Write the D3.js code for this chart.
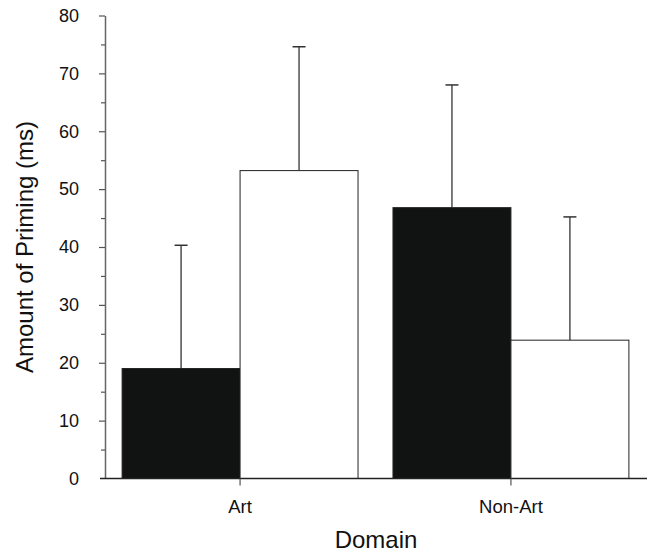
<!DOCTYPE html>
<html>
<head>
<meta charset="utf-8">
<script src="https://cdn.jsdelivr.net/npm/d3@7"></script>
<style>
  html, body { margin: 0; padding: 0; background: #fff; }
  svg { display: block; font-family: Arial, "Liberation Sans", sans-serif; }
</style>
</head>
<body>
<svg id="chart" width="648" height="553"></svg>
<script>
const categories = ["Art", "Non-Art"];
const series = ["black", "white"];
const means = { black: [19.0, 46.8], white: [53.2, 23.9] };
const errTops = { black: [40.3, 68.0], white: [74.6, 45.2] };
const yTicks = [0, 10, 20, 30, 40, 50, 60, 70, 80];
const yMinorTicks = [5, 15, 25, 35, 45, 55, 65, 75];

const svg = d3.select("#chart");
const axisX0 = 105, axisX1 = 647;
const y = d3.scaleLinear().domain([0, 80]).range([478.5, 15.5]);
const x = d3.scaleBand().domain(categories).range([104.5, 646.5]).paddingInner(0.129).paddingOuter(0.065);
const xs = d3.scaleBand().domain(series).range([0, x.bandwidth()]);
const fills = { black: "#111312", white: "#ffffff" };

// bars
categories.forEach((c, i) => {
  series.forEach(s => {
    const bx = x(c) + xs(s), bw = xs.bandwidth();
    const v = means[s][i], e = errTops[s][i];
    const cx = bx + bw / 2;
    svg.append("line").attr("x1", cx).attr("x2", cx).attr("y1", y(v)).attr("y2", y(e))
      .attr("stroke", "#333").attr("stroke-width", 1.3);
    svg.append("line").attr("x1", cx - 6.5).attr("x2", cx + 6.5).attr("y1", y(e)).attr("y2", y(e))
      .attr("stroke", "#333").attr("stroke-width", 1.5);
    svg.append("rect").attr("x", bx).attr("y", y(v)).attr("width", bw).attr("height", y(0) - y(v))
      .attr("fill", fills[s]).attr("stroke", "#222").attr("stroke-width", 1);
  });
});

// y axis
const gy = svg.append("g").attr("transform", `translate(${axisX0},0)`);
gy.call(d3.axisLeft(y).tickValues(yTicks).tickSize(6).tickPadding(20).tickSizeOuter(0));
gy.selectAll(".tick").filter(d => d === 0).select("line").remove();
gy.selectAll(".tick text").attr("font-size", 18).attr("fill", "#111").attr("font-family", "Arial, 'Liberation Sans', sans-serif");
gy.select(".domain").attr("stroke", "#666").attr("stroke-width", 1.5);
gy.selectAll(".tick line").attr("stroke", "#555").attr("stroke-width", 1.2);
const gym = svg.append("g").attr("transform", `translate(${axisX0},0)`);
gym.call(d3.axisLeft(y).tickValues(yMinorTicks).tickSize(4).tickFormat(""));
gym.select(".domain").remove();
gym.selectAll(".tick line").attr("stroke", "#555").attr("stroke-width", 1.2);

// x axis
svg.append("line").attr("x1", 100).attr("x2", axisX1).attr("y1", y(0)).attr("y2", y(0))
  .attr("stroke", "#222").attr("stroke-width", 1.5);
const gx = svg.append("g").attr("transform", `translate(0,${y(0)})`);
gx.call(d3.axisBottom(x).tickSize(7).tickPadding(14).tickSizeOuter(0));
gx.select(".domain").remove();
gx.selectAll(".tick line").attr("stroke", "#555").attr("stroke-width", 1.2);
gx.selectAll(".tick text").attr("font-size", 18.5).attr("fill", "#111").attr("font-family", "Arial, 'Liberation Sans', sans-serif");

// titles
svg.append("text").attr("x", 376).attr("y", 548).attr("text-anchor", "middle")
  .attr("font-size", 24).attr("fill", "#111").text("Domain");
svg.append("text").attr("transform", `translate(33,${(15.5 + 478.5) / 2}) rotate(-90)`)
  .attr("text-anchor", "middle").attr("font-size", 24).attr("fill", "#111").text("Amount of Priming (ms)");
</script>
</body>
</html>
